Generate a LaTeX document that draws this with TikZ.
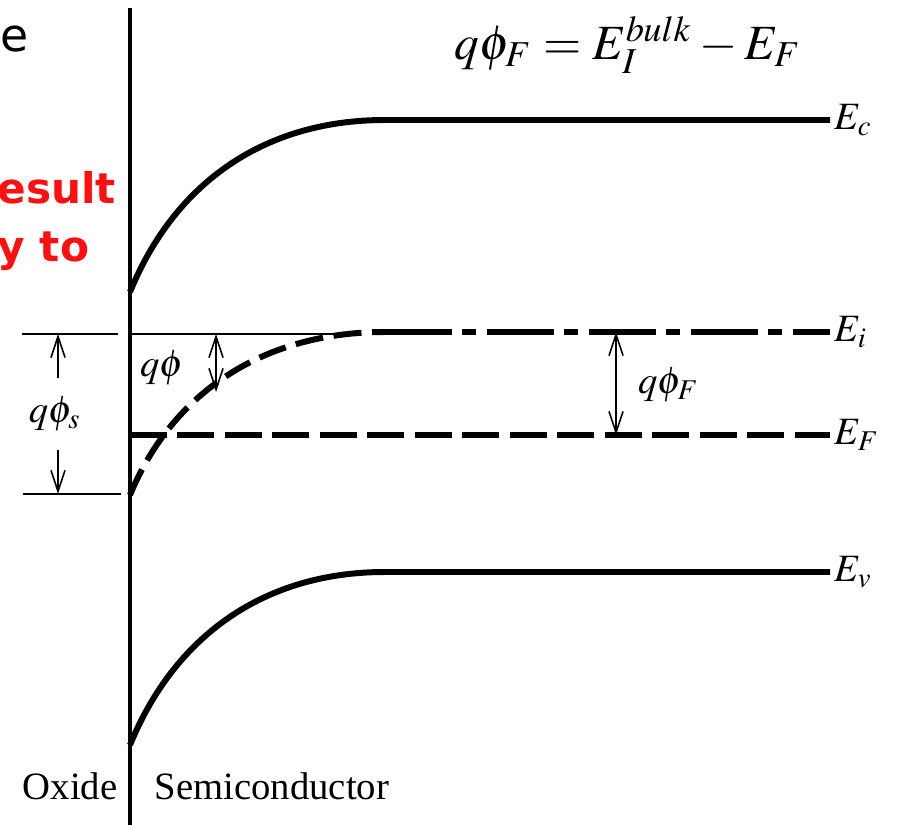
\documentclass[tikz,border=0pt]{standalone}
\usepackage{mathptmx}
\usepackage{fontspec}
\setmainfont{Liberation Serif}
\newfontfamily\notefont{DejaVu Sans}
\usetikzlibrary{arrows.meta}
\definecolor{notered}{HTML}{FF1010}
\tikzset{
  band/.style={line width=1.7pt},
  guide/.style={line width=0.45pt},
  gap/.style={line width=0.45pt,{Straight Barb[length=6pt,width=4pt]}-{Straight Barb[length=6pt,width=4pt]}},
  gapup/.style={line width=0.45pt,-{Straight Barb[length=6pt,width=4pt]}},
  lab/.style={font=\fontsize{11}{13}\selectfont,inner sep=1pt},
  note/.style={font=\notefont\bfseries\fontsize{12}{14}\selectfont,text=notered,inner sep=0pt}
}

\begin{document}
\begin{tikzpicture}[x=0.01cm,y=-0.01cm]
\useasboundingbox (0,0) rectangle (897,825);
% interface
\coordinate (top) at (130,8);
\coordinate (bot) at (130,825);
\draw[line width=0.9pt] (top) -- (bot);
% bands
\coordinate (ec0) at (130,292); \coordinate (ec1) at (385,120); \coordinate (ec2) at (830,120);
\coordinate (ei0) at (130,495); \coordinate (ei1) at (385,332); \coordinate (ei2) at (830,332);
\coordinate (ev0) at (130,745); \coordinate (ev1) at (385,572); \coordinate (ev2) at (830,572);
\coordinate (ef0) at (130,435); \coordinate (ef2) at (830,435);
\draw[band] (ec0) .. controls +(45,-110) and +(-120,0) .. (ec1) -- (ec2);
\draw[band] (ev0) .. controls +(45,-110) and +(-120,0) .. (ev1) -- (ev2);
\draw[band,dash pattern=on 8pt off 3pt] (ei0) .. controls +(43,-104) and +(-120,0) .. (ei1);
\draw[band,dash pattern=on 19pt off 3pt on 4pt off 3pt] (ei1) -- (ei2);
\draw[band,dash pattern=on 10.5pt off 3pt] (ef0) -- (ef2);
\node[lab,right] (Ec) at (ec2) {$E_c$};
\node[lab,right] (Ei) at (ei2) {$E_i$};
\node[lab,right] (EF) at (ef2) {$E_F$};
\node[lab,right] (Ev) at (ev2) {$E_v$};
% guide lines
\draw[guide] (22,334) -- (118,334);
\draw[guide] (130,334) -- (360,334);
\draw[guide] (23,494) -- (121,494);
% surface potential
\node[lab,inner sep=4pt] (qphis) at (55,414) {$q\phi_s$};
\coordinate (s1) at (58,334);
\coordinate (s2) at (58,494);
\draw[gapup] (qphis.north -| s1) ++(0,-4) -- (s1);
\draw[gapup] (qphis.south -| s2) ++(0,4) -- (s2);
\node[lab] (qphi) at (162,368) {$q\phi$};
\coordinate (a1) at (216,334);
\coordinate (a2) at (216,392);
\draw[gap] (a1) -- (a2);
% bulk Fermi potential
\coordinate (f1) at (616,332);
\coordinate (f2) at (616,435);
\draw[gap] (f1) -- (f2);
\node[lab,anchor=west] (qphiF) at (634,385) {$q\phi_F$};
\node[font=\fontsize{14}{17}\selectfont] (eq) at (628,45) {$q\phi_F = E_I^{bulk} - E_F$};
% regions
\node[lab] (oxide) at (70,786) {Oxide};
\node[lab] (semi) at (272,786) {Semiconductor};
% cut-off note text
\node[note,text=black,font=\notefont\fontsize{13}{15}\selectfont,anchor=base west] (n0) at (0,52) {e};
\node[note,anchor=base west] (n1) at (-3,204) {esult};
\node[note,anchor=base west] (n2) at (-3,262) {y to};
\end{tikzpicture}
\end{document}
